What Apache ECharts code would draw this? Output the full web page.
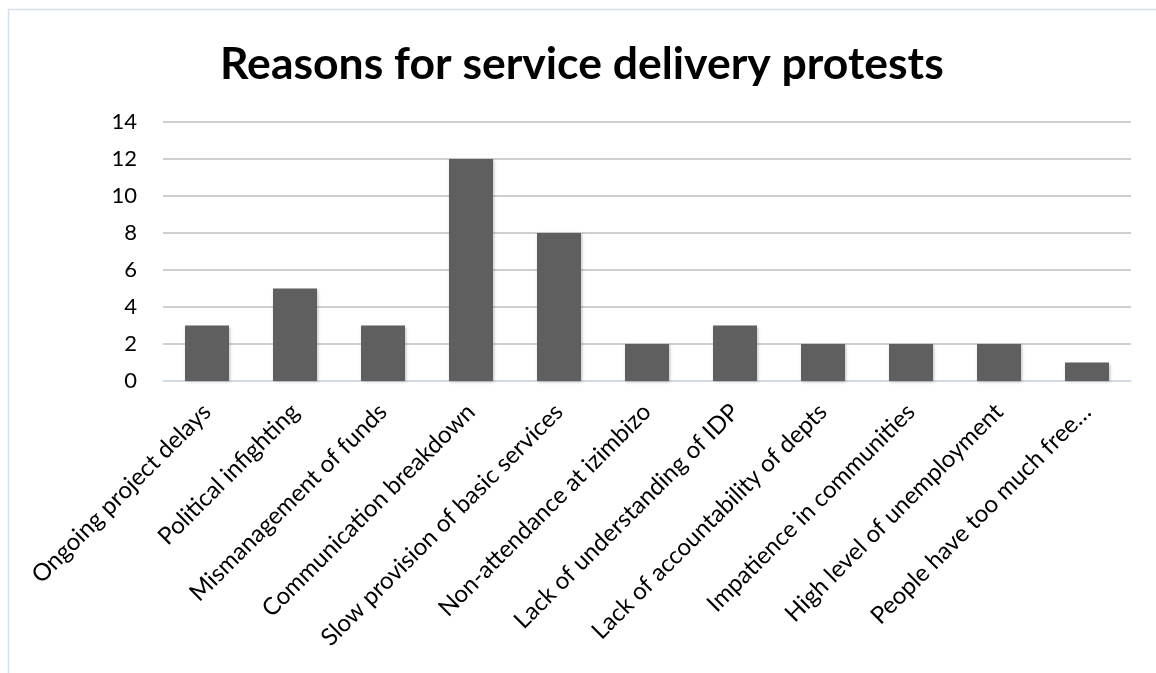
<!DOCTYPE html>
<html>
<head>
<meta charset="utf-8">
<script src="https://cdn.jsdelivr.net/npm/echarts@6/dist/echarts.min.js"></script>
<style>
html,body{margin:0;padding:0;background:#fff;}
#chart{width:1156px;height:673px;}
</style>
</head>
<body>
<div id="chart"></div>
<script>
const titleText = "Reasons for service delivery protests";
const categories = [
  "Ongoing project delays",
  "Political infighting",
  "Mismanagement of funds",
  "Communication breakdown",
  "Slow provision of basic services",
  "Non-attendance at izimbizo",
  "Lack of understanding of IDP",
  "Lack of accountability of depts",
  "Impatience in communities",
  "High level of unemployment",
  "People have too much free…"
];
const values = [3, 5, 3, 12, 8, 2, 3, 2, 2, 2, 1];
const yTicks = { min: 0, max: 14, interval: 2 };

const FONT = "Lato, 'Open Sans', sans-serif";
const chart = echarts.init(document.getElementById('chart'), null, {renderer: 'canvas'});
chart.setOption({
  animation: false,
  backgroundColor: '#ffffff',
  title: {
    text: titleText,
    left: 215,
    top: 37,
    textStyle: { fontFamily: FONT, fontWeight: 'bold', fontSize: 44.5, color: '#000' }
  },
  graphic: [{
    type: 'rect',
    shape: { x: 8.5, y: 9.5, width: 1200, height: 700 },
    style: { fill: 'none', stroke: '#d6e1ef', lineWidth: 1.5 },
    silent: true
  }],
  grid: { left: 163, right: 25, top: 122, bottom: 292 },
  xAxis: {
    type: 'category',
    data: categories,
    axisLine: { show: true, lineStyle: { color: '#d3deec', width: 1.5 } },
    axisTick: { show: false },
    axisLabel: {
      interval: 0,
      rotate: 45,
      margin: 27,
      fontFamily: FONT,
      fontSize: 24,
      color: '#000'
    }
  },
  yAxis: {
    type: 'value',
    min: yTicks.min,
    max: yTicks.max,
    interval: yTicks.interval,
    axisLine: { show: false },
    axisTick: { show: false },
    splitLine: { lineStyle: { color: '#bfbfbf', width: 1.5 } },
    axisLabel: { fontFamily: FONT, fontSize: 22, color: '#000', margin: 26 }
  },
  series: [{
    type: 'bar',
    data: values,
    barWidth: '50%',
    itemStyle: {
      color: '#5f5f5f',
      shadowBlur: 3,
      shadowColor: 'rgba(0,0,0,0.25)',
      shadowOffsetX: 1,
      shadowOffsetY: 1
    }
  }]
});
</script>
</body>
</html>
